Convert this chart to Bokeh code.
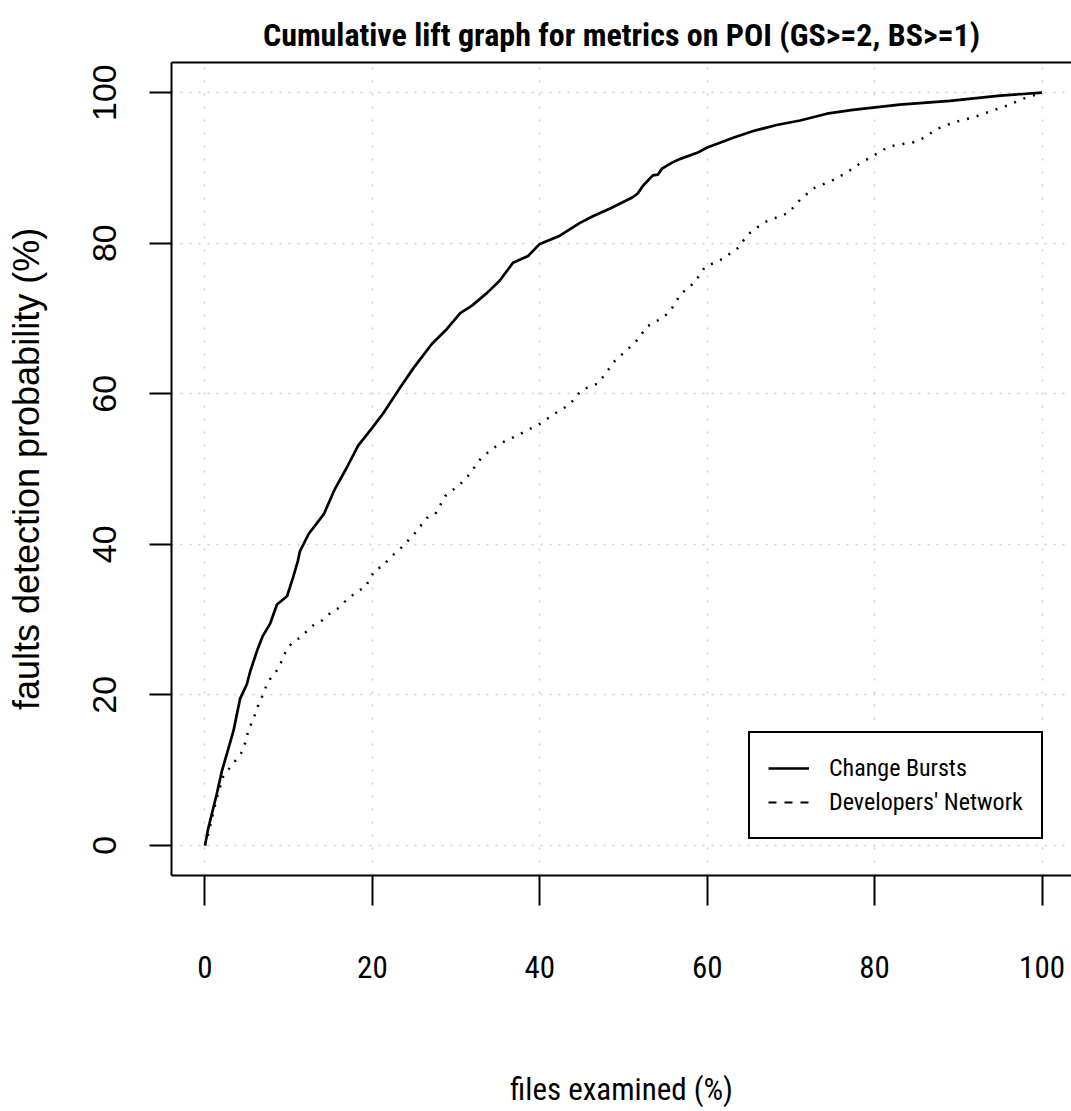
from bokeh.plotting import figure
from bokeh.models import Range1d, LinearAxis, FixedTicker, Legend, LegendItem
from bokeh.embed import file_html
from bokeh.resources import INLINE

# ---- data ----
cb_x = [0, 0.4, 0.8, 1.4, 2.0, 2.7, 3.4, 4.2, 5.0, 5.4, 6.3, 6.9, 7.8, 8.6, 9.8, 10.5, 11.1,
        11.35, 12.4, 14.2, 15.5, 16.9, 18.3, 20.0, 21.3, 23.3, 24.9, 27.1, 28.9, 30.5, 31.9,
        33.7, 35.2, 36.8, 38.6, 40.0, 42.4, 44.8, 46.4, 48.4, 51.1, 51.7, 52.3, 53.5, 54.1,
        54.6, 55.8, 56.8, 58.8, 60.0, 61.2, 63.1, 65.5, 68.3, 71.1, 74.3, 77.4, 79.8, 83.0,
        89.0, 95.0, 100]
cb_y = [0, 2.3, 4.1, 6.8, 9.8, 12.5, 15.2, 19.5, 21.4, 23.1, 26.1, 27.8, 29.5, 32.0, 33.1, 35.5, 37.8,
        39.1, 41.4, 44.0, 47.3, 50.1, 53.1, 55.5, 57.4, 60.8, 63.4, 66.6, 68.6, 70.7, 71.7,
        73.4, 75.0, 77.4, 78.3, 79.9, 81.0, 82.7, 83.6, 84.6, 86.1, 86.6, 87.6, 89.0, 89.1,
        89.9, 90.7, 91.2, 92.0, 92.7, 93.2, 94.0, 94.9, 95.7, 96.3, 97.2, 97.7, 98.0, 98.4,
        98.9, 99.6, 100]

dn_x = [0, 0.4, 1.4, 2.2, 2.9, 3.6, 4.3, 4.8, 5.1, 5.6, 6.1, 6.5, 7.0, 7.4, 8.1, 8.8, 9.3, 9.8,
        10.5, 11.5, 12.2, 13.0, 14.0, 14.8, 15.8, 16.5, 17.4, 18.2, 19.1, 19.7, 20.3, 21.3, 21.9,
        23.7, 25.1, 26.5, 27.5, 28.7, 30.5, 31.3, 33.1, 35.1, 37.2, 40.0, 41.7, 43.6, 45.0, 47.0,
        49.0, 51.4, 52.9, 54.7, 55.6, 56.8, 58.5, 59.7, 61.8, 63.6, 64.9, 66.7, 68.7, 69.7, 71.2,
        72.9, 74.9, 76.7, 77.7, 79.5, 81.5, 82.4, 84.6, 85.7, 87.5, 89.6, 91.8, 93.8, 95.9, 97.8,
        100]
dn_y = [0, 1.5, 6.3, 9.2, 10.2, 11.2, 12.2, 13.6, 14.9, 16.4, 17.7, 19.1, 20.1, 21.5, 22.6, 23.5, 24.9, 26.1,
        27.0, 27.7, 28.5, 29.3, 29.9, 30.7, 31.4, 32.2, 33.0, 33.8, 34.2, 35.4, 36.6, 37.1, 38.0,
        39.8, 41.5, 43.5, 44.0, 46.4, 48.0, 48.9, 51.6, 53.3, 54.4, 56.0, 57.3, 58.6, 60.5, 61.4,
        64.4, 66.8, 69.0, 70.1, 71.0, 73.2, 74.8, 76.8, 77.9, 79.3, 81.2, 82.7, 83.6, 84.0, 85.9,
        87.4, 88.3, 89.4, 90.2, 91.4, 92.7, 93.0, 93.4, 93.9, 95.2, 96.1, 96.7, 97.5, 98.3, 99.2,
        100]

x_ticks = [0, 20, 40, 60, 80, 100]
y_ticks = [0, 20, 40, 60, 80, 100]
series_names = ["Change Bursts", "Developers' Network"]
title_text = "Cumulative lift graph for metrics on POI (GS>=2, BS>=1)"
x_label = "files examined (%)"
y_label = "faults detection probability (%)"

NARROW = "Roboto Condensed, DejaVu Sans Condensed, Liberation Sans"
REG = "Liberation Sans"

p = figure(width=1071, height=1111,
           x_range=Range1d(-4, 103.52), y_range=Range1d(-4, 104),
           output_backend="svg", toolbar_location=None,
           min_border_left=171, min_border_right=0, min_border_top=62, min_border_bottom=236,
           x_axis_label=x_label, y_axis_label=y_label)
p.outline_line_color = None
p.background_fill_color = "white"
p.border_fill_color = "white"

# title
p.title.text = title_text
p.title.align = "center"
p.title.text_font = NARROW
p.title.text_font_style = "bold"
p.title.text_font_size = "32px"
p.title.text_color = "black"
p.title.standoff = 17

# x axis
xa = p.xaxis[0]
xa.ticker = FixedTicker(ticks=x_ticks)
xa.axis_line_width = 2
xa.major_tick_line_width = 2
xa.major_tick_out = 30
xa.major_tick_in = 0
xa.minor_tick_line_color = None
xa.major_label_text_font = NARROW
xa.major_label_text_font_size = "31px"
xa.major_label_text_color = "black"
xa.major_label_standoff = 50
xa.axis_label_text_font = NARROW
xa.axis_label_text_font_style = "normal"
xa.axis_label_text_font_size = "31px"
xa.axis_label_text_color = "black"
xa.axis_label_standoff = 90

# y axis
ya = p.yaxis[0]
ya.ticker = FixedTicker(ticks=y_ticks)
ya.axis_line_width = 2
ya.major_tick_line_width = 2
ya.major_tick_out = 22
ya.major_tick_in = 0
ya.minor_tick_line_color = None
ya.major_label_orientation = "vertical"
ya.major_label_text_font = REG
ya.major_label_text_font_size = "34px"
ya.major_label_text_color = "black"
ya.major_label_standoff = 33
ya.axis_label_text_font = REG
ya.axis_label_text_font_style = "normal"
ya.axis_label_text_font_size = "36px"
ya.axis_label_text_color = "black"
ya.axis_label_standoff = 44

# top border of the box
top = LinearAxis(ticker=FixedTicker(ticks=[]), axis_line_width=2,
                 major_tick_out=0, major_tick_in=0, minor_tick_out=0, minor_tick_in=0,
                 major_label_standoff=0, major_label_text_font_size="0px")
p.add_layout(top, "above")

# grid
p.xgrid.ticker = FixedTicker(ticks=x_ticks)
p.ygrid.ticker = FixedTicker(ticks=y_ticks)
p.xgrid.grid_line_color = "#cfcfcf"
p.ygrid.grid_line_color = "#cfcfcf"
p.xgrid.grid_line_width = 1.5
p.ygrid.grid_line_width = 1.5
p.xgrid.grid_line_dash = "2 11"
p.ygrid.grid_line_dash = "2 7"

# series
r_cb = p.line(cb_x, cb_y, line_color="black", line_width=2.7)
r_dn = p.line(dn_x, dn_y, line_color="black", line_width=2.5, line_dash="2 8")
r_dn_leg = p.line(dn_x, dn_y, line_color="black", line_width=2.2, line_dash="8 8", visible=False)

legend = Legend(items=[LegendItem(label=series_names[0], renderers=[r_cb]),
                       LegendItem(label=series_names[1], renderers=[r_dn_leg])],
                location=(577, 36))
legend.border_line_color = "black"
legend.border_line_alpha = 1
legend.border_line_width = 2
legend.background_fill_color = "white"
legend.background_fill_alpha = 1
legend.padding = 18
legend.spacing = 0
legend.margin = 0
legend.glyph_width = 41
legend.glyph_height = 34
legend.label_height = 34
legend.label_standoff = 20
legend.label_text_font = NARROW
legend.label_text_font_size = "24px"
legend.label_text_color = "black"
p.add_layout(legend, "center")

open("out.html", "w").write(file_html(p, INLINE))
